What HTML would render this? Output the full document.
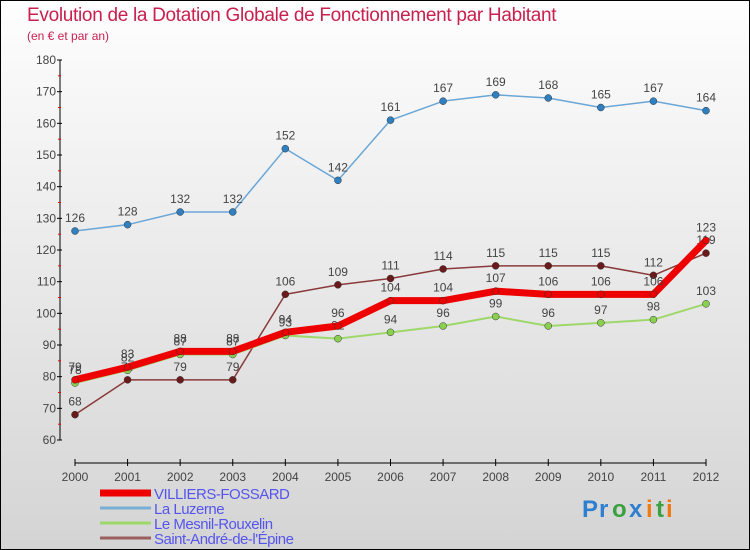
<!DOCTYPE html>
<html><head><meta charset="utf-8"><style>
body{margin:0}
#c{position:relative;width:748px;height:548px;border:1px solid #000;background:linear-gradient(#fefefe,#d4d4d4);font-family:"Liberation Sans",sans-serif;overflow:hidden}
.t{position:absolute;color:#c8204f}
</style></head><body>
<div id="c">
<div class="t" style="left:26px;top:4px;font-size:19px;letter-spacing:-0.3px">Evolution de la Dotation Globale de Fonctionnement par Habitant</div>
<div class="t" style="left:26px;top:28px;font-size:12px">(en € et par an)</div>
<svg id="s" width="750" height="550" style="position:absolute;left:-1px;top:-1px" font-family="Liberation Sans, sans-serif"></svg>
</div>
<script>
const years=["2000","2001","2002","2003","2004","2005","2006","2007","2008","2009","2010","2011","2012"];
const yTicks=[60,70,80,90,100,110,120,130,140,150,160,170,180];
const villiers=[79,83,88,88,94,96,104,104,107,106,106,106,123];
const luzerne=[126,128,132,132,152,142,161,167,169,168,165,167,164];
const mesnil=[78,82,87,87,93,92,94,96,99,96,97,98,103];
const standre=[68,79,79,79,106,109,111,114,115,115,115,112,119];
const seriesNames=["VILLIERS-FOSSARD","La Luzerne","Le Mesnil-Rouxelin","Saint-André-de-l'Épine"];
const NS="http://www.w3.org/2000/svg",s=document.getElementById('s');
function x(i){return 75+i*(706-75)/(years.length-1);}
function y(v){return 440-(v-60)*(380/120);}
function mk(t,a,txt){const e=document.createElementNS(NS,t);for(const k in a)e.setAttribute(k,a[k]);if(txt!==undefined)e.textContent=txt;s.appendChild(e);return e;}
let e;
e=mk('line',{x1:60,y1:60,x2:60,y2:440,stroke:'#000'});


yTicks.forEach(v=>{mk('line',{x1:57,y1:y(v),x2:62,y2:y(v),stroke:'#000'});
 if(v<180)mk('line',{x1:58,y1:y(v+5),x2:61,y2:y(v+5),stroke:'#e00'});
 e=mk('text',{x:56,y:y(v)+4,'text-anchor':'end','font-size':12,fill:'#444'},v);
 
 });
e=mk('line',{x1:75,y1:463,x2:706,y2:463,stroke:'#000'});


years.forEach((yr,i)=>{mk('line',{x1:x(i),y1:459,x2:x(i),y2:466,stroke:'#000'});
 e=mk('text',{x:x(i),y:481,'text-anchor':'middle','font-size':12,fill:'#444'},yr);
 
 });
function series(d,col,w,dot,name,lblDy){
 e=mk('polyline',{points:d.map((v,i)=>x(i)+','+y(v)).join(' '),fill:'none',stroke:col,'stroke-width':w,'stroke-linejoin':'round'});
 
 
 d.forEach((v,i)=>{e=mk('circle',{cx:x(i),cy:y(v),r:3.5,fill:dot,stroke:'#333','stroke-width':0.5});
  
  
  e=mk('text',{x:x(i),y:y(v)+lblDy,'text-anchor':'middle','font-size':12,fill:'#444'},v);
  
  });
}
series(luzerne,'#6aa6d6',1.5,'#2f80c0','la-luzerne',-9);
series(standre,'#8a3a3a',1.5,'#6a1a1a','saint-andre',-9);
series(mesnil,'#9ed86a',2,'#8ad050','le-mesnil',-9);
series(villiers,'#ee0000',7,'#ee0000','villiers-fossard',-9);
const lc=['#ee0000','#7aaed6','#9ed86a','#9a6060'],lw=[7,3,3,3];
seriesNames.forEach((n,i)=>{const yy=499+i*15;
 e=mk('line',{x1:100,y1:yy-6,x2:151,y2:yy-6,stroke:lc[i],'stroke-width':lw[i]});
 
 
 e=mk('text',{x:154,y:yy,'font-size':15,fill:'#5555ee','letter-spacing':-0.5},n);
 
 });
const logo=[['P','#2f7fd0'],['r','#2f7fd0'],['o','#3aa040'],['x','#2f7fd0'],['i','#f07a10'],['t','#3aa040'],['i','#f07a10']];
let lx=582;
logo.forEach(([c,col])=>{e=mk('text',{x:lx,y:517,'font-size':24,'font-weight':'bold',fill:col},c);
 
 
 lx+= c==='i'||c==='t'?10:(c==='r'?13:17);});
</script>
</body></html>
